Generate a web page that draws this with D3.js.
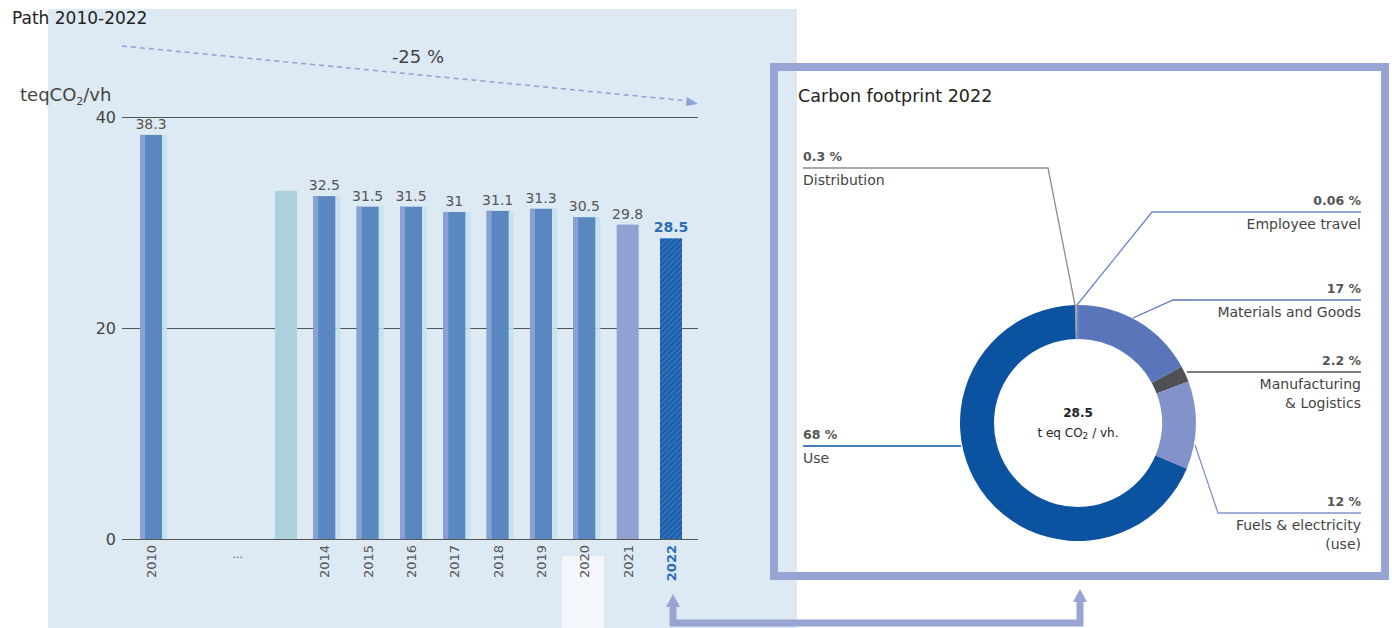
<!DOCTYPE html>
<html>
<head>
<meta charset="utf-8">
<script src="https://cdn.jsdelivr.net/npm/d3@7"></script>
<style>
  body { margin: 0; background: #fff; }
  svg { display: block; font-family: "DejaVu Sans", sans-serif; }
</style>
</head>
<body>
<svg id="chart" width="1392" height="628"></svg>
<script>
// bar chart data
var years = ["2010", "2011", "2012", "2013", "2014", "2015", "2016", "2017", "2018", "2019", "2020", "2021", "2022"];
var barYears = ["2010", "2014", "2015", "2016", "2017", "2018", "2019", "2020", "2021", "2022"];
var barValues = [38.3, 32.5, 31.5, 31.5, 31, 31.1, 31.3, 30.5, 29.8, 28.5];
var ghostYears = ["2013"];
var ghostValues = [33.0];
var yTicks = [0, 20, 40];

// donut data
var slices = ["Materials and Goods", "Manufacturing & Logistics", "Fuels & electricity (use)", "Use", "Distribution", "Employee travel"];
var shares = [17, 2.2, 12, 68, 0.3, 0.06];
var shareLabels = ["17 %", "2.2 %", "12 %", "68 %", "0.3 %", "0.06 %"];
var sliceColors = ["#5b75bb", "#4f5053", "#8492cb", "#0b52a1", "#a0a0a0", "#6d86cc"];

var svg = d3.select("#chart");
var defs = svg.append("defs");

// hatching for 2022
var pat = defs.append("pattern").attr("id", "hatch").attr("patternUnits", "userSpaceOnUse")
	.attr("width", 4).attr("height", 4).attr("patternTransform", "rotate(45)");
pat.append("rect").attr("width", 4).attr("height", 4).attr("fill", "#1a5ea9");
pat.append("rect").attr("width", 1.5).attr("height", 4).attr("fill", "#3576bd");

// background panel
svg.append("rect").attr("x", 48).attr("y", 9).attr("width", 749).attr("height", 619).attr("fill", "#dde9f3");
svg.append("rect").attr("x", 562).attr("y", 556).attr("width", 42).attr("height", 72).attr("fill", "#f3f7fb");

var x = d3.scalePoint().domain(years).range([151, 671]);
var y = d3.scaleLinear().domain([0, 40]).range([539, 117]);
var barW = 22;

// titles
svg.append("text").attr("x", 12).attr("y", 24).attr("font-size", 17).attr("fill", "#222").text("Path 2010-2022");
var unit = svg.append("text").attr("x", 20).attr("y", 101).attr("font-size", 18).attr("fill", "#444");
unit.append("tspan").text("teqCO");
unit.append("tspan").attr("font-size", 11).attr("dy", 4).text("2");
unit.append("tspan").attr("dy", -4).text("/vh");

// grid + y axis
var yAxis = svg.append("g").attr("transform", "translate(122,0)")
	.call(d3.axisLeft(y).tickValues(yTicks).tickSize(-576).tickPadding(6));
yAxis.select(".domain").remove();
yAxis.selectAll(".tick line").attr("stroke", "#555").attr("stroke-width", 1);
yAxis.selectAll(".tick text").attr("font-size", 16).attr("fill", "#444").attr("font-family", "DejaVu Sans, sans-serif");

// dashed trend arrow
svg.append("line").attr("x1", 122).attr("y1", 46).attr("x2", 689).attr("y2", 101)
	.attr("stroke", "#8ea2d8").attr("stroke-width", 1.5).attr("stroke-dasharray", "5,4");
svg.append("path").attr("d", "M698,104 L687,97 L686,106 Z").attr("fill", "#8ea2d8");
svg.append("text").attr("x", 418).attr("y", 63).attr("text-anchor", "middle").attr("font-size", 18).attr("fill", "#444").text("-25 %");

// ghost bar
svg.selectAll("rect.ghost").data(ghostYears).enter().append("rect").attr("class", "ghost")
	.attr("x", d => x(d) - barW / 2 + 5).attr("width", barW)
	.attr("y", (d, i) => y(ghostValues[i])).attr("height", (d, i) => y(0) - y(ghostValues[i]))
	.attr("fill", "#acd2de");

// bars
var bars = svg.selectAll("g.bar").data(barYears).enter().append("g").attr("class", "bar");
bars.append("rect")
	.attr("x", d => x(d) + barW / 2).attr("width", 5)
	.attr("y", (d, i) => y(barValues[i])).attr("height", (d, i) => y(0) - y(barValues[i]))
	.attr("fill", "#c4e2ec").attr("opacity", (d, i) => i >= 8 ? 0 : 0.9);
bars.append("rect")
	.attr("x", d => x(d) - barW / 2).attr("width", barW)
	.attr("y", (d, i) => y(barValues[i])).attr("height", (d, i) => y(0) - y(barValues[i]))
	.attr("fill", (d, i) => d === "2022" ? "url(#hatch)" : d === "2021" ? "#8fa2d3" : "#5988c0");
bars.append("rect")
	.attr("x", d => x(d) - barW / 2).attr("width", 5)
	.attr("y", (d, i) => y(barValues[i])).attr("height", (d, i) => y(0) - y(barValues[i]))
	.attr("fill", "#88a0d3").attr("opacity", (d, i) => i >= 8 ? 0 : 1);
bars.append("text")
	.attr("x", d => x(d)).attr("y", (d, i) => y(barValues[i]) - 6)
	.attr("text-anchor", "middle").attr("font-size", 14)
	.attr("font-weight", d => d === "2022" ? "bold" : "normal")
	.attr("fill", d => d === "2022" ? "#2d6db6" : "#555")
	.text((d, i) => barValues[i]);

// x axis labels
var xAxis = svg.append("g").attr("transform", "translate(0,539)")
	.call(d3.axisBottom(x).tickValues(barYears).tickSize(0).tickPadding(0));
xAxis.select(".domain").remove();
xAxis.selectAll(".tick text")
	.attr("transform", "translate(0,6) rotate(-90)")
	.attr("y", 0).attr("dy", "0.35em").attr("text-anchor", "end")
	.attr("font-size", 13).attr("font-family", "DejaVu Sans, sans-serif")
	.attr("font-weight", d => d === "2022" ? "bold" : "normal")
	.attr("fill", d => d === "2022" ? "#2d6db6" : "#555");
svg.append("text").attr("x", x("2012")).attr("y", 558).attr("text-anchor", "middle")
	.attr("font-size", 11).attr("fill", "#555").text("...");

// frame + connector
var lav = "#98a5d4";
svg.append("rect").attr("x", 774).attr("y", 67).attr("width", 611).attr("height", 509)
	.attr("fill", "none").attr("stroke", lav).attr("stroke-width", 8);
var cx0 = x("2022") + 2;
svg.append("path").attr("d", "M" + cx0 + ",605 V623 H1080 V600")
	.attr("fill", "none").attr("stroke", lav).attr("stroke-width", 7);
svg.append("path").attr("d", "M" + (cx0 - 7) + ",607 L" + cx0 + ",594 L" + (cx0 + 7) + ",607 Z").attr("fill", lav);
svg.append("path").attr("d", "M1073,602 L1080,589 L1087,602 Z").attr("fill", lav);

svg.append("text").attr("x", 798).attr("y", 102).attr("font-size", 17.5).attr("fill", "#222").text("Carbon footprint 2022");

// donut
var cx = 1078, cy = 423;
var pie = d3.pie().sort(null).value(d => d);
var arcs = pie(shares);
var arc = d3.arc().innerRadius(84).outerRadius(118);
var dg = svg.append("g").attr("transform", "translate(" + cx + "," + cy + ")");
dg.selectAll("path").data(arcs).enter().append("path")
	.attr("d", arc).attr("fill", (d, i) => sliceColors[i])
	.attr("stroke", (d, i) => i >= 4 ? sliceColors[i] : "none").attr("stroke-width", 1);

svg.append("text").attr("x", cx).attr("y", 417).attr("text-anchor", "middle")
	.attr("font-size", 12).attr("font-weight", "bold").attr("fill", "#222").text("28.5");
var c2 = svg.append("text").attr("x", cx).attr("y", 437).attr("text-anchor", "middle").attr("font-size", 12).attr("fill", "#222");
c2.append("tspan").text("t eq CO");
c2.append("tspan").attr("font-size", 9).attr("dy", 2).text("2");
c2.append("tspan").attr("dy", -2).text(" / vh.");

// callouts
var callouts = [
	{ i: 0, pts: [[1361, 300], [1173, 300], [1133, 318]], side: "right", names: ["Materials and Goods"] },
	{ i: 1, pts: [[1361, 372], [1187, 372]], side: "right", names: ["Manufacturing", "& Logistics"] },
	{ i: 2, pts: [[1195, 445], [1218, 513], [1361, 513]], side: "right", names: ["Fuels & electricity", "(use)"], ly: 513 },
	{ i: 3, pts: [[803, 446], [961, 446]], side: "left", names: ["Use"] },
	{ i: 4, pts: [[803, 168], [1048, 168], [1075, 305]], side: "left", names: ["Distribution"] },
	{ i: 5, pts: [[1361, 212], [1152, 212], [1077, 305]], side: "right", names: ["Employee travel"] }
];
var lineColors = ["#5b75bb", "#4f5053", "#8492cb", "#0b52a1", "#8c8c8c", "#6d86cc"];
callouts.forEach(function (c) {
	svg.append("path").attr("d", d3.line()(c.pts)).attr("fill", "none")
		.attr("stroke", lineColors[c.i]).attr("stroke-width", 1.3);
	var ly = c.ly || c.pts[0][1];
	var tx = c.side === "right" ? 1361 : 803;
	var anchor = c.side === "right" ? "end" : "start";
	svg.append("text").attr("x", tx).attr("y", ly - 7).attr("text-anchor", anchor)
		.attr("font-size", 12.5).attr("font-weight", "bold").attr("fill", "#555").text(shareLabels[c.i]);
	c.names.forEach(function (n, k) {
		svg.append("text").attr("x", tx).attr("y", ly + 17 + k * 19).attr("text-anchor", anchor)
			.attr("font-size", 14).attr("fill", "#444").text(n);
	});
});
</script>
</body>
</html>
